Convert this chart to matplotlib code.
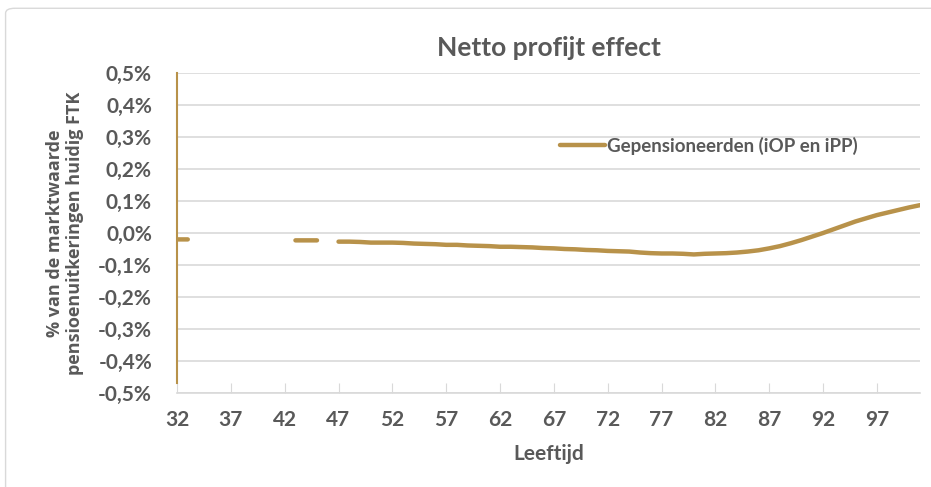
import numpy as np
import matplotlib
matplotlib.use('Agg')
import matplotlib.pyplot as plt
from matplotlib.patches import FancyBboxPatch

plt.rcParams['font.family'] = ['Lato', 'DejaVu Sans']

# Data (values in %); NaN = no value
ages = np.arange(32, 102)
values = [
    -0.020, -0.020,                                     # 32-33
    np.nan, np.nan, np.nan, np.nan, np.nan, np.nan,     # 34-39
    np.nan, np.nan, np.nan,                             # 40-42
    -0.023, -0.023, -0.023,                             # 43-45
    np.nan,                                             # 46
    -0.027, -0.027, -0.028, -0.030, -0.030, -0.030,     # 47-52
    -0.031, -0.033, -0.034, -0.035, -0.037, -0.037,     # 53-58
    -0.039, -0.040, -0.041, -0.043, -0.043, -0.044,     # 59-64
    -0.045, -0.047, -0.048, -0.050, -0.051, -0.053,     # 65-70
    -0.054, -0.056, -0.057, -0.058, -0.061, -0.063,     # 71-76
    -0.064, -0.064, -0.065, -0.067, -0.065, -0.064,     # 77-82
    -0.063, -0.061, -0.058, -0.054, -0.048, -0.041,     # 83-88
    -0.032, -0.022, -0.011, 0.000, 0.012, 0.024,        # 89-94
    0.036, 0.046, 0.056, 0.064, 0.072, 0.080,           # 95-100
    0.087,                                              # 101
]
series_name = 'Gepensioneerden (iOP en iPP)'
xticks = np.arange(32, 101, 5)
yticks = np.round(np.arange(-0.5, 0.51, 0.1), 1)
ytick_labels = ['-0,5%', '-0,4%', '-0,3%', '-0,2%', '-0,1%', '0,0%',
                '0,1%', '0,2%', '0,3%', '0,4%', '0,5%']

gold = '#B8924A'
grey = '#595959'

fig = plt.figure(figsize=(9.31, 4.87), dpi=100)
fig.patches.append(FancyBboxPatch((0.006, -0.05), 1.2, 1.033, boxstyle='round,pad=0,rounding_size=0.01',
                                  transform=fig.transFigure, fill=False, edgecolor='#D9D9D9', lw=1))
ax = fig.add_axes([177 / 931, 1 - 393 / 487, (920 - 177) / 931, (393 - 73) / 487])

ax.plot(ages, values, color=gold, lw=3.2, solid_capstyle='round', label=series_name)

ax.set_xlim(32, 101)
ax.set_ylim(-0.5, 0.5)
ax.set_xticks(xticks)
ax.set_xticklabels([str(a) for a in xticks], fontsize=15, fontweight='bold', color=grey)
ax.set_yticks(yticks)
ax.set_yticklabels(ytick_labels, fontsize=15, fontweight='bold', color=grey)
ax.tick_params(axis='y', length=0, pad=18)
ax.tick_params(axis='x', direction='in', length=7, color='#D9D9D9', pad=12)
ax.grid(axis='y', color='#D9D9D9', lw=1.2)
ax.set_axisbelow(True)

for s in ['top', 'right']:
    ax.spines[s].set_visible(False)
ax.spines['bottom'].set_color('#D9D9D9')
ax.spines['bottom'].set_linewidth(1.2)
ax.spines['left'].set_color(gold)
ax.spines['left'].set_linewidth(1.5)
ax.spines['left'].set_bounds(-0.47, 0.5)
ax.spines['left'].set_zorder(3)

ax.set_title('Netto profijt effect', fontsize=19, fontweight='bold', color=grey, pad=12)
ax.set_xlabel('Leeftijd', fontsize=15, fontweight='bold', color=grey, labelpad=10)
ax.set_ylabel('% van de marktwaarde\npensioenuitkeringen huidig FTK', fontsize=13,
              fontweight='bold', color=grey, family=['Open Sans', 'DejaVu Sans'],
              labelpad=10, linespacing=1.15)

leg = ax.legend(loc='center left', bbox_to_anchor=(0.515, 0.772), frameon=False, fontsize=13.5,
                handlelength=2.4, handletextpad=0.1, borderaxespad=0, borderpad=0)
for t in leg.get_texts():
    t.set_color(grey)
    t.set_fontweight('bold')

fig.savefig('out.png', dpi=100)
